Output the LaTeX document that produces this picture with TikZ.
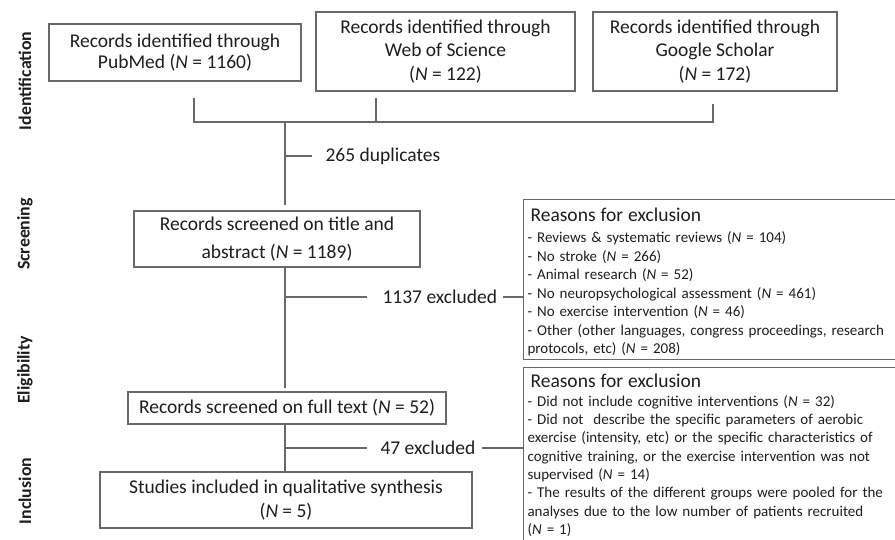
\documentclass[tikz,border=0pt]{standalone}
\usepackage{fontspec}
\setmainfont{Carlito}
\definecolor{linecol}{RGB}{105,105,105}
\definecolor{txtcol}{RGB}{30,30,30}
\begin{document}
\begin{tikzpicture}[x=1pt,y=-1pt,
  line width=1.1pt, draw=linecol, text=txtcol,
  box/.style={draw=linecol, line width=1.1pt, align=center, inner sep=0pt},
  lbl/.style={anchor=west, inner sep=0pt, font=\fontsize{19.5}{22}\selectfont},
  side/.style={rotate=90, inner sep=0pt, font=\fontsize{17.8}{20}\bfseries\selectfont},
  rbox/.style={draw=linecol, line width=1.1pt, anchor=north west, inner sep=0pt, minimum width=420pt},
  rtext/.style={anchor=north west, inner sep=0pt, text width=380pt, align=left, font=\fontsize{15}{18.5}\selectfont},
  conn/.style={draw=linecol, line width=1.1pt}]
\useasboundingbox (0,0) rectangle (895,540);
\clip (0,0) rectangle (895,540);

% side labels
\node[side] (sid) at (25,81) {Identification};
\node[side] (ssc) at (25,234) {Screening};
\node[side] (sel) at (25,370) {Eligibility};
\node[side] (sin) at (25,491) {Inclusion};

% boxes
\node[box, minimum width=252pt, minimum height=57pt, font=\fontsize{19.5}{21}\selectfont] (pub) at (175,52.5) {Records identified through\\PubMed (\textit{N} = 1160)};
\node[box, minimum width=259pt, minimum height=79pt, font=\fontsize{19.5}{23.5}\selectfont] (wos) at (445.5,51.5) {Records identified through\\Web of Science\\(\textit{N} = 122)};
\node[box, minimum width=244pt, minimum height=79pt, font=\fontsize{19.5}{23.5}\selectfont] (goo) at (715,51.5) {Records identified through\\Google Scholar\\(\textit{N} = 172)};
\node[box, minimum width=286pt, minimum height=56pt, font=\fontsize{19.5}{28}\selectfont] (scr) at (277,239) {Records screened on title and\\abstract (\textit{N} = 1189)};
\node[box, minimum width=318pt, minimum height=32pt, font=\fontsize{19.5}{22}\selectfont] (full) at (287,408) {Records screened on full text (\textit{N} = 52)};
\node[box, minimum width=372pt, minimum height=56pt, font=\fontsize{19.5}{24}\selectfont] (stud) at (286,500) {Studies included in qualitative synthesis\\(\textit{N} = 5)};

% reasons boxes
\node[rbox, minimum height=160pt] (r1) at (523,199) {};
\node[rbox, minimum height=200pt] (r2) at (523,367) {};
\node[rtext] (r1t) at (527,207.5) {{\fontsize{19.5}{18.5}\selectfont\hspace*{3pt}Reasons for exclusion}\\[2.5pt]
- Reviews \& systematic reviews (\textit{N} = 104)\\
- No stroke (\textit{N} = 266)\\
- Animal research (\textit{N} = 52)\\
- No neuropsychological assessment (\textit{N} = 461)\\
- No exercise intervention (\textit{N} = 46)\\
- Other (other languages, congress proceedings, research\\
protocols, etc) (\textit{N} = 208)};
\node[rtext, font=\fontsize{15}{18.3}\selectfont] (r2t) at (527,373) {{\fontsize{19.5}{18.3}\selectfont\hspace*{3pt}Reasons for exclusion}\\[1pt]
- Did not include cognitive interventions (\textit{N} = 32)\\
- Did not\ \ describe the specific parameters of aerobic\\
exercise (intensity, etc) or the specific characteristics of\\
cognitive training, or the exercise intervention was not\\
supervised (\textit{N} = 14)\\
- The results of the different groups were pooled for the\\
analyses due to the low number of patients recruited\\
(\textit{N} = 1)};

% merge lines
\coordinate (p1) at (194,98);
\coordinate (p2) at (194,122);
\coordinate (w1) at (376,98);
\coordinate (w2) at (376,122);
\coordinate (g1) at (713,104);
\coordinate (g2) at (713,122);
\coordinate (j) at (285,122);
\coordinate (s1) at (285,205);
\draw[conn] (p1) -- (p2) -- (g2) -- (g1);
\draw[conn] (w1) -- (w2);
\draw[conn] (j) -- (s1);

% duplicates
\coordinate (d1) at (285,156);
\coordinate (d2) at (312,156);
\node[lbl] (dup) at (325,156) {265 duplicates};
\draw[conn] (d1) -- (d2);

% screening to full text
\coordinate (s2) at (285,267);
\coordinate (f1) at (285,388);
\draw[conn] (s2) -- (f1);
\coordinate (e1) at (285,297);
\coordinate (e2) at (367,297);
\node[lbl] (x1) at (382,297) {1137 excluded};
\draw[conn] (e1) -- (e2);
\draw[conn] ([xshift=5pt]x1.east) -- (x1.east -| r1.west);

% full text to included
\coordinate (f2) at (285,424);
\coordinate (i1) at (285,472);
\draw[conn] (f2) -- (i1);
\coordinate (k1) at (285,448);
\coordinate (k2) at (367,448);
\node[lbl] (x2) at (380,448) {47 excluded};
\draw[conn] (k1) -- (k2);
\draw[conn] ([xshift=6pt]x2.east) -- (x2.east -| r2.west);
\end{tikzpicture}
\end{document}
